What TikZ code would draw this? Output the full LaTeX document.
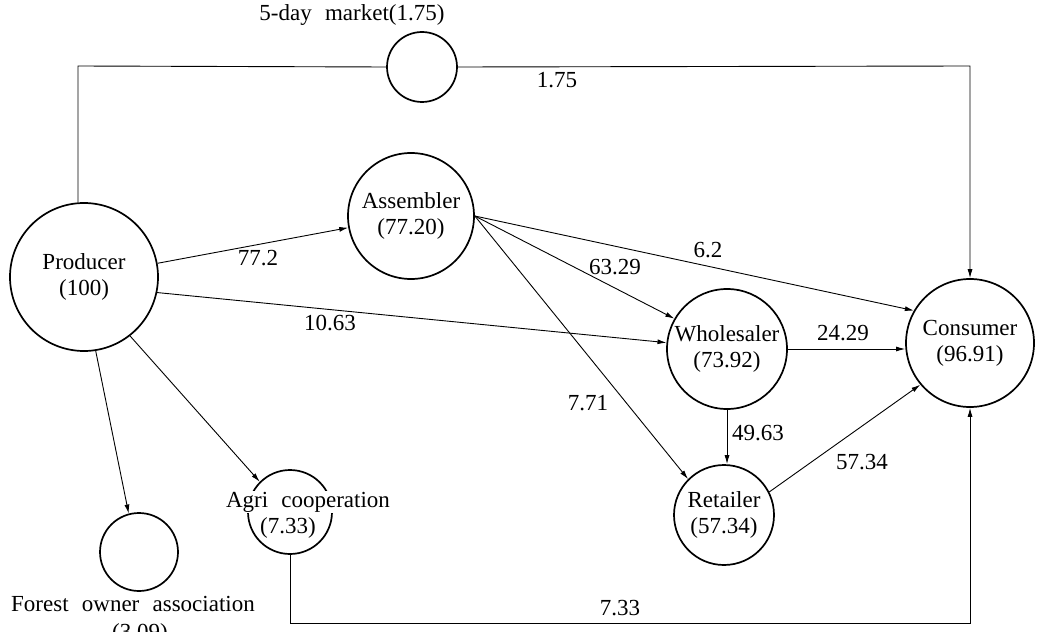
\documentclass[tikz,border=0pt]{standalone}
\usepackage{fontspec}
\setmainfont[WordSpace=2.3]{Liberation Serif}
\usetikzlibrary{arrows.meta}
\begin{document}
\begin{tikzpicture}[x=1pt,y=-1pt,
  every node/.style={font=\fontsize{23}{26}\selectfont},
  ent/.style={circle,draw,line width=1.7pt,inner sep=0pt,align=center},
  conn/.style={line width=0.9pt},
  arr/.style={conn,-{Latex[length=9pt,width=5pt]}},
  lbl/.style={inner sep=1pt}]
\useasboundingbox (0,0) rectangle (1040,631);
% entities
\node[ent,minimum size=148pt] (producer) at (84,277) {Producer\\(100)};
\node[ent,minimum size=126pt] (assembler) at (411,216) {Assembler\\(77.20)};
\node[ent,minimum size=70pt] (market) at (422,67) {};
\node[ent,minimum size=120pt] (wholesaler) at (727,349) {Wholesaler\\(73.92)};
\node[ent,minimum size=128pt] (consumer) at (970,343) {Consumer\\(96.91)};
\node[ent,minimum size=100pt] (retailer) at (724,515) {Retailer\\(57.34)};
\node[ent,minimum size=84pt] (agri) at (290,512) {};
\node[ent,minimum size=78pt] (forest) at (139,552) {};
% entity captions
\node (markettxt) at (352,15) {5-day market(1.75)};
\node[fill=white,inner sep=1pt] (agritxt) at (308,502) {Agri cooperation};
\node[inner sep=1pt] (agrival) at (288,528) {(7.33)};
\node (foresttxt) at (133,604) {Forest owner association};
\node (forestval) at (140,634) {(3.09)};
% helper coordinates
\coordinate (tl) at (78,66);
\coordinate (bot) at (0,623);
% connectors
\draw[conn] (producer.north -| tl) -- (tl) -- (market.west);
\draw[arr] (market.east) -- (consumer.north |- tl) -- (consumer.north);
\draw[arr] (producer) -- (assembler);
\draw[arr] (producer.-12) -- (wholesaler.174);
\draw[arr] (producer.-52) -- (agri.135);
\draw[arr] (producer.-81) -- (forest.105);
\draw[arr] (assembler.east) -- (consumer.150);
\draw[arr] (assembler.east) -- (wholesaler.150);
\draw[arr] (assembler.east) -- (retailer.135);
\draw[arr] (wholesaler.east) -- (wholesaler.east -| consumer.west);
\draw[arr] (wholesaler.south) -- (wholesaler.south |- retailer.north);
\draw[arr] (retailer.27) -- (consumer.220);
\draw[arr] (agri.south) -- (agri.south |- bot) -- (consumer.south |- bot) -- (consumer.south);
% flow labels
\node[lbl] (l1) at (557,80) {1.75};
\node[lbl] (l2) at (258,258) {77.2};
\node[lbl] (l3) at (330,323) {10.63};
\node[lbl] (l4) at (708,250) {6.2};
\node[lbl] (l5) at (615,267) {63.29};
\node[lbl] (l6) at (588,403) {7.71};
\node[lbl] (l7) at (843,333) {24.29};
\node[lbl] (l8) at (758,433) {49.63};
\node[lbl] (l9) at (862,462) {57.34};
\node[lbl] (l10) at (620,608) {7.33};
\end{tikzpicture}
\end{document}
